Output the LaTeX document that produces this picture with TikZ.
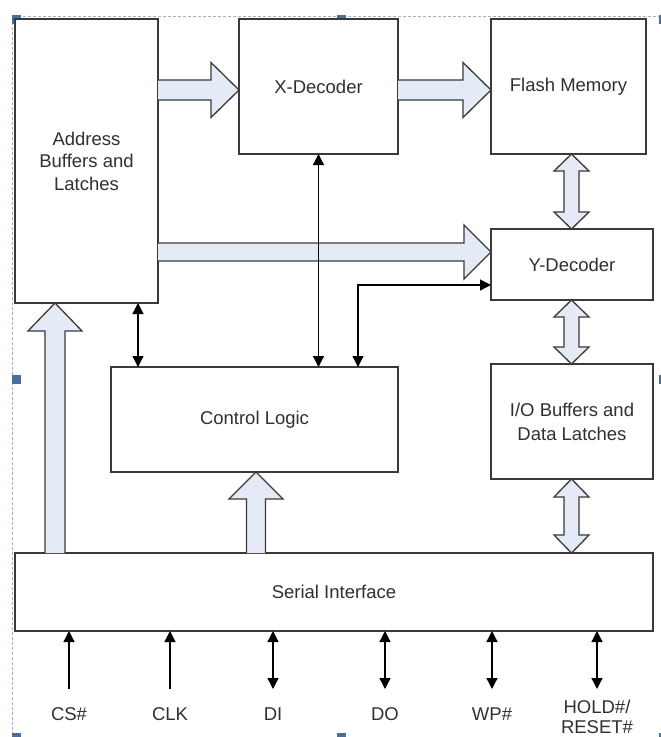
\documentclass[tikz,border=0pt]{standalone}
\usepackage{fontspec}
\setmainfont{Liberation Sans}
\usetikzlibrary{arrows.meta,calc}
\definecolor{fatfill}{HTML}{E4EBF6}
\definecolor{boxline}{HTML}{3A3A3A}
\definecolor{txt}{HTML}{303030}
\definecolor{selline}{HTML}{9DB3CF}
\definecolor{selhandle}{HTML}{4A6F9C}
% fat arrow pointing right: #1 tail point, #2 tip point, #3 shaft half width, #4 head half width, #5 head length
\newcommand\fatR[5]{\filldraw[fat] let \p1=(#1), \p2=(#2) in (\x1,\y1+#3pt) -- (\x2-#5pt,\y1+#3pt) -- (\x2-#5pt,\y1+#4pt) -- (\x2,\y1) -- (\x2-#5pt,\y1-#4pt) -- (\x2-#5pt,\y1-#3pt) -- (\x1,\y1-#3pt);}
% fat arrow pointing up: #1 tail (bottom), #2 tip (top)
\newcommand\fatU[5]{\filldraw[fat] let \p1=(#1), \p2=(#2) in (\x1-#3pt,\y1) -- (\x1-#3pt,\y2-#5pt) -- (\x1-#4pt,\y2-#5pt) -- (\x1,\y2) -- (\x1+#4pt,\y2-#5pt) -- (\x1+#3pt,\y2-#5pt) -- (\x1+#3pt,\y1);}
% fat double arrow vertical: #1 top tip, #2 bottom tip
\newcommand\fatUD[5]{\filldraw[fat] let \p1=(#1), \p2=(#2) in (\x1,\y1) -- (\x1+#4pt,\y1-#5pt) -- (\x1+#3pt,\y1-#5pt) -- (\x1+#3pt,\y2+#5pt) -- (\x1+#4pt,\y2+#5pt) -- (\x1,\y2) -- (\x1-#4pt,\y2+#5pt) -- (\x1-#3pt,\y2+#5pt) -- (\x1-#3pt,\y1-#5pt) -- (\x1-#4pt,\y1-#5pt) -- cycle;}
\begin{document}
\begin{tikzpicture}[x=1pt,y=-1pt,
  box/.style={draw=boxline, line width=1.5pt, fill=white, inner sep=0pt, outer sep=0pt,
    align=center, text=txt, font=\fontsize{18.5}{22.5}\selectfont},
  fat/.style={draw=boxline, line width=1.3pt, fill=fatfill, line join=miter},
  wire/.style={draw=black, line width=1.3pt},
  >={Triangle[length=11pt,width=11pt]},
  pinlbl/.style={text=txt, align=center, inner sep=0pt, font=\fontsize{18.5}{20}\selectfont}]
\fill[white] (0,0) rectangle (661,737);
\clip (0,0) rectangle (661,737);
% selection frame
\draw[selline, line width=0.9pt, dash pattern=on 3pt off 2pt] (661,16) -- (12,16) -- (12,737);
\foreach \hx/\hy in {12/15,337/15,659/15,12/375,659/375,12/733,337/733,659/733}
  \fill[selhandle] (\hx,\hy) rectangle ++(9,9);
% boxes
\node[box, minimum width=143pt, minimum height=284pt] (addr) at (86.5,161) {Address\\Buffers and\\Latches};
\node[box, minimum width=159pt, minimum height=135pt] (xdec) at (318.5,86.5) {X-Decoder};
\node[box, minimum width=155pt, minimum height=135pt] (flash) at (568.5,86.5) {Flash Memory};
\node[box, minimum width=162pt, minimum height=71pt] (ydec) at (572,264.5) {Y-Decoder};
\node[box, minimum width=162pt, minimum height=115pt, font=\fontsize{18.5}{24}\selectfont] (io) at (572,421.5) {I/O Buffers and\\Data Latches};
\node[box, minimum width=287pt, minimum height=105pt] (ctrl) at (254.5,419.5) {Control Logic};
\node[box, minimum width=638pt, minimum height=78pt] (serial) at (334,592) {Serial Interface};
% fat arrows
\coordinate (yAX) at (0,90);
\coordinate (yAY) at (0,252);
\coordinate (xSA) at (55,0);
\coordinate (xSC) at (256,0);
\coordinate (xR) at (571.5,0);
\fatR{addr.east |- yAX}{xdec.west |- yAX}{10}{27.5}{28}
\fatR{xdec.east |- yAX}{flash.west |- yAX}{10}{27.5}{28}
\fatR{addr.east |- yAY}{ydec.west |- yAY}{9}{27}{27}
\fatU{serial.north -| xSA}{addr.south -| xSA}{10}{27}{28}
\fatU{serial.north -| xSC}{ctrl.south -| xSC}{9.5}{27}{27}
\fatUD{flash.south -| xR}{ydec.north -| xR}{7.5}{17.5}{17}
\fatUD{ydec.south -| xR}{io.north -| xR}{7.5}{17.5}{17}
\fatUD{io.south -| xR}{serial.north -| xR}{7.5}{17.5}{18}
% thin connectors
\coordinate (x138) at (138,0);
\coordinate (elb) at (358,285);
\draw[wire,<->] (addr.south -| x138) -- (ctrl.north -| x138);
\draw[wire,<->] (xdec.south) -- (xdec.south |- ctrl.north);
\draw[wire,<->] (ctrl.north -| elb) -- (elb) -- (ydec.west |- elb);
% pins
\coordinate (pcs) at (69,689);
\coordinate (pclk) at (170,689);
\coordinate (pdi) at (273,689);
\coordinate (pdo) at (385,689);
\coordinate (pwp) at (492,689);
\coordinate (phold) at (597,689);
\draw[wire,->] (pcs) -- (serial.south -| pcs);
\draw[wire,->] (pclk) -- (serial.south -| pclk);
\draw[wire,<->] (pdi) -- (serial.south -| pdi);
\draw[wire,<->] (pdo) -- (serial.south -| pdo);
\draw[wire,<->] (pwp) -- (serial.south -| pwp);
\draw[wire,<->] (phold) -- (serial.south -| phold);
\node[pinlbl] (lcs) at (69,714) {CS\#};
\node[pinlbl] (lclk) at (170,714) {CLK};
\node[pinlbl] (ldi) at (273,714) {DI};
\node[pinlbl] (ldo) at (385,714) {DO};
\node[pinlbl] (lwp) at (492,714) {WP\#};
\node[pinlbl] (lhold) at (597,717) {HOLD\#/\\RESET\#};
\end{tikzpicture}
\end{document}
